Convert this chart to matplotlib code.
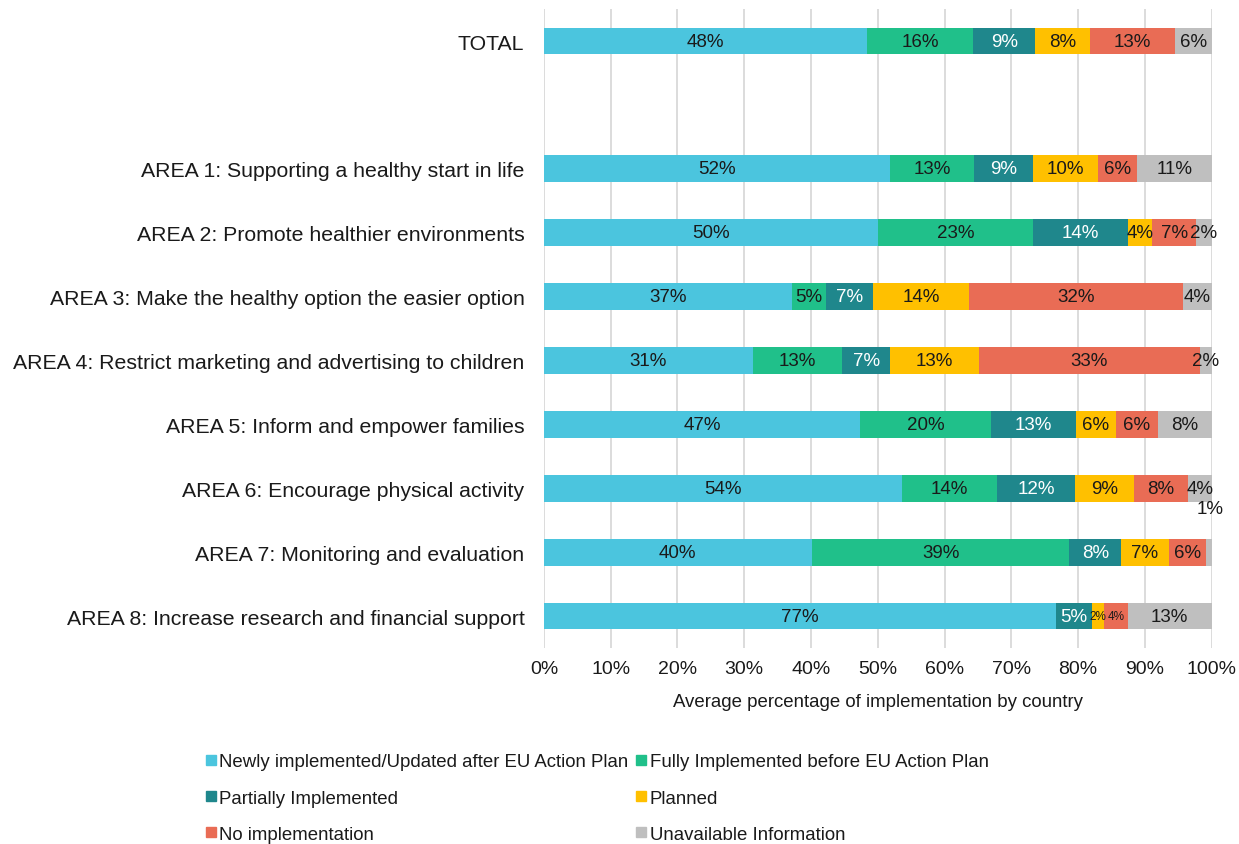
import numpy as np
import matplotlib.pyplot as plt
from matplotlib.lines import Line2D

plt.rcParams["font.family"] = ["Liberation Sans", "DejaVu Sans"]

CATEGORIES = [
    "TOTAL",
    "",
    "AREA 1: Supporting a healthy start in life",
    "AREA 2: Promote healthier environments",
    "AREA 3: Make the healthy option the easier option",
    "AREA 4: Restrict marketing and advertising to children",
    "AREA 5: Inform and empower families",
    "AREA 6: Encourage physical activity",
    "AREA 7: Monitoring and evaluation",
    "AREA 8: Increase research and financial support",
]

SERIES = [
    "Newly implemented/Updated after EU Action Plan",
    "Fully Implemented before EU Action Plan",
    "Partially Implemented",
    "Planned",
    "No implementation",
    "Unavailable Information",
]

# percentages per row (row 1 is an empty spacer)
newly = [48.4, 0, 51.8, 50.1, 37.2, 31.3, 47.4, 53.6, 40.1, 76.7]
fully = [15.9, 0, 12.6, 23.2, 5.0, 13.4, 19.6, 14.3, 38.6, 0]
partial = [9.3, 0, 8.9, 14.1, 7.1, 7.1, 12.6, 11.6, 7.7, 5.3]
planned = [8.1, 0, 9.6, 3.7, 14.3, 13.4, 6.1, 8.9, 7.2, 1.9]
no_impl = [12.8, 0, 5.9, 6.6, 32.1, 33.0, 6.2, 8.0, 5.6, 3.5]
unavail = [5.5, 0, 11.2, 2.3, 4.3, 1.8, 8.1, 3.6, 0.8, 12.6]

COLORS = ["#4BC5DE", "#20C08A", "#1F878C", "#FFC000", "#E96C55", "#BFBFBF"]
TEXT_COLORS = ["#1a1a1a", "#1a1a1a", "white", "#1a1a1a", "#1a1a1a", "#1a1a1a"]

data = np.array([newly, fully, partial, planned, no_impl, unavail]) / 100.0

fig = plt.figure(figsize=(12.39, 8.45), dpi=100)
ax = fig.add_axes([0.439, 0.232, 0.539, 0.756])

y = np.arange(len(CATEGORIES))
left = np.zeros(len(CATEGORIES))
for i, (name, vals) in enumerate(zip(SERIES, data)):
    ax.barh(y, vals, left=left, height=0.42, color=COLORS[i], label=name, zorder=2)
    for j, v in enumerate(vals):
        if v <= 0:
            continue
        cx = left[j] + v / 2
        txt = f"{v * 100:.0f}%"
        size = 13.5
        dy = 0
        if v < 0.04 and j == 9:
            size = 8.5
        if v < 0.01:
            # too thin to hold its label, put it above the bar end
            cx = left[j] + v - 0.002
            dy = -0.68
        ax.text(cx, y[j] + dy, txt, ha="center", va="center",
                fontsize=size, color=TEXT_COLORS[i], zorder=3)
    left += vals

ax.set_xlim(0, 1)
ax.set_ylim(len(CATEGORIES) - 0.5, -0.5)
ax.set_xticks(np.arange(0, 1.01, 0.1))
ax.set_xticklabels([f"{t}%" for t in range(0, 101, 10)], fontsize=14, color="#1a1a1a")
ax.set_yticks(y)
ax.set_yticklabels(CATEGORIES, fontsize=15.3, color="#1a1a1a")
ax.tick_params(axis="x", length=0, pad=9)
ax.tick_params(axis="y", length=0, pad=14)
ax.grid(axis="x", color="#D9D9D9", linewidth=1.3, zorder=0)
for s in ax.spines.values():
    s.set_visible(False)
ax.set_xlabel("Average percentage of implementation by country", fontsize=13.4,
              color="#1a1a1a", labelpad=11)

# legend filled row-wise: two columns, three rows
order = [0, 2, 4, 1, 3, 5]
handles = [Line2D([], [], marker="s", linestyle="none", markersize=7,
                  color=COLORS[k]) for k in order]
labels = [SERIES[k] for k in order]
fig.legend(handles, labels, ncol=2, loc="upper left", bbox_to_anchor=(0.158, 0.116),
           frameon=False, fontsize=13.4, handletextpad=0.05, columnspacing=0.3,
           labelspacing=1.03, handlelength=0.8, borderaxespad=0, labelcolor="#1a1a1a")

fig.savefig("out.png", dpi=100)
